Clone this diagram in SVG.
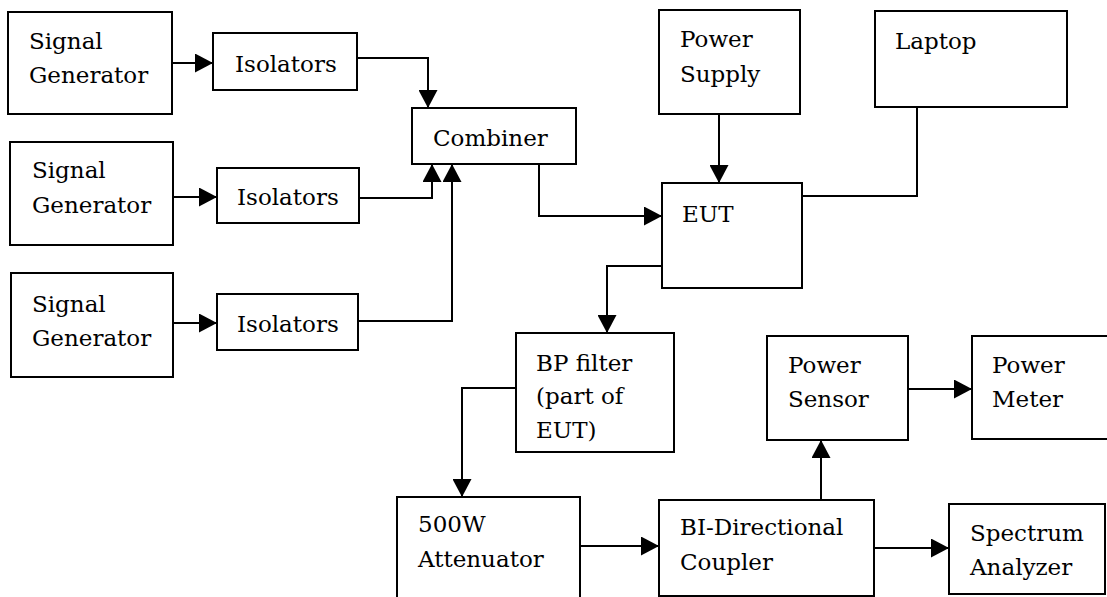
<svg xmlns="http://www.w3.org/2000/svg" width="1107" height="597" viewBox="0 0 1107 597">
<style>
.box{fill:#fff;stroke:#000;stroke-width:2}
.t{font-family:"DejaVu Serif","Liberation Serif",serif;font-size:23px;fill:#000}
.c{fill:none;stroke:#000;stroke-width:2}
.a{marker-end:url(#arr)}
</style>
<defs>
<marker id="arr" markerUnits="userSpaceOnUse" markerWidth="18" markerHeight="19" refX="18" refY="9.5" orient="auto">
<path d="M0,0 L18,9.5 L0,19 z" fill="#000"/>
</marker>
</defs>
<rect width="1107" height="597" fill="#fff"/>
<g id="sg1"><rect class="box" x="8" y="12" width="164" height="102"/><text class="t" x="29" y="49">Signal</text><text class="t" x="29" y="83">Generator</text></g>
<g id="iso1"><rect class="box" x="213" y="33" width="144" height="57"/><text class="t" x="235" y="72">Isolators</text></g>
<g id="sg2"><rect class="box" x="10" y="142" width="163" height="103"/><text class="t" x="32" y="178">Signal</text><text class="t" x="32" y="213">Generator</text></g>
<g id="iso2"><rect class="box" x="217" y="168" width="142" height="55"/><text class="t" x="237" y="205">Isolators</text></g>
<g id="sg3"><rect class="box" x="11" y="273" width="162" height="104"/><text class="t" x="32" y="312">Signal</text><text class="t" x="32" y="346">Generator</text></g>
<g id="iso3"><rect class="box" x="217" y="294" width="141" height="56"/><text class="t" x="237" y="332">Isolators</text></g>
<g id="combiner"><rect class="box" x="412" y="108" width="164" height="56"/><text class="t" x="433" y="146">Combiner</text></g>
<g id="powersupply"><rect class="box" x="659" y="10" width="141" height="104"/><text class="t" x="680" y="47">Power</text><text class="t" x="680" y="82">Supply</text></g>
<g id="eut"><rect class="box" x="662" y="183" width="140" height="105"/><text class="t" x="682" y="222">EUT</text></g>
<g id="laptop"><rect class="box" x="875" y="11" width="192" height="96"/><text class="t" x="895" y="49">Laptop</text></g>
<g id="bpfilter"><rect class="box" x="516" y="333" width="158" height="119"/><text class="t" x="536" y="371">BP filter</text><text class="t" x="536" y="404">(part of</text><text class="t" x="536" y="438">EUT)</text></g>
<g id="attenuator"><rect class="box" x="397" y="497" width="183" height="110"/><text class="t" x="418" y="532">500W</text><text class="t" x="418" y="567">Attenuator</text></g>
<g id="coupler"><rect class="box" x="659" y="500" width="215" height="96"/><text class="t" x="680" y="535">BI-Directional</text><text class="t" x="680" y="570">Coupler</text></g>
<g id="powersensor"><rect class="box" x="767" y="336" width="141" height="104"/><text class="t" x="788" y="373">Power</text><text class="t" x="788" y="407">Sensor</text></g>
<g id="powermeter"><rect class="box" x="972" y="336" width="150" height="103"/><text class="t" x="992" y="373">Power</text><text class="t" x="992" y="407">Meter</text></g>
<g id="spectrum"><rect class="box" x="949" y="504" width="156" height="90"/><text class="t" x="970" y="541">Spectrum</text><text class="t" x="970" y="575">Analyzer</text></g>
<g id="connectors">
<path class="c a" d="M172,63 H213"/>
<path class="c a" d="M173,197 H217"/>
<path class="c a" d="M173,323 H217"/>
<path class="c a" d="M357,58 H428 V108"/>
<path class="c a" d="M359,198 H432 V164"/>
<path class="c a" d="M358,321 H452 V164"/>
<path class="c a" d="M539,164 V216 H662"/>
<path class="c a" d="M719,114 V183"/>
<path class="c" d="M802,196 H917 V107"/>
<path class="c a" d="M662,266 H607 V333"/>
<path class="c a" d="M516,388 H462 V497"/>
<path class="c a" d="M580,546 H659"/>
<path class="c a" d="M821,500 V440"/>
<path class="c a" d="M908,389 H972"/>
<path class="c a" d="M874,548 H949"/>
</g>
</svg>
